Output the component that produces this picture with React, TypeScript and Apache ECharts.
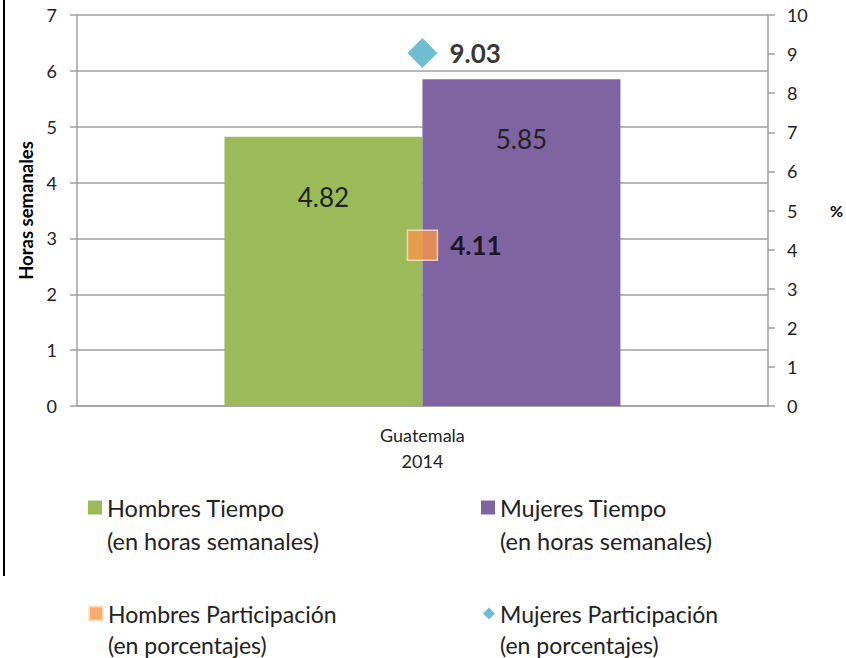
import React, { useEffect, useRef } from "react";
import * as echarts from "echarts";

const categories = ["Guatemala\n2014"];
const hombresTiempo = [4.82];
const mujeresTiempo = [5.85];
const hombresParticipacion = [4.11];
const mujeresParticipacion = [9.03];
const leftTicks = { min: 0, max: 7, interval: 1 };
const rightTicks = { min: 0, max: 10, interval: 1 };

const FONT = "Lato, 'Open Sans', sans-serif";

export default function App() {
  const ref = useRef<HTMLDivElement>(null);
  useEffect(() => {
    if (!ref.current) return;
    const chart = echarts.init(ref.current, null, { renderer: "svg" });
    const mkLegend = (name: string, left: number, top: number, icon: string, size: number, fontSize: number, lineHeight: number) => ({
      data: [{ name, icon }],
      left,
      top,
      itemWidth: size,
      itemHeight: size,
      itemGap: 0,
      padding: 0,
      selectedMode: false,
      formatter: (n: string) => "\n" + n,
      textStyle: { fontFamily: FONT, fontSize, color: "#222", lineHeight },
    });
    const n1 = "Hombres Tiempo\n(en horas semanales)";
    const n2 = "Mujeres Tiempo\n(en horas semanales)";
    const n3 = "Hombres Participación\n(en porcentajes)";
    const n4 = "Mujeres Participación\n(en porcentajes)";
    chart.setOption({
      animation: false,
      textStyle: { fontFamily: FONT },
      grid: { left: 77, right: 75, top: 15, bottom: 252 },
      legend: [
        mkLegend(n1, 88, 458, "rect", 14, 23.5, 33),
        mkLegend(n2, 481, 458, "rect", 14, 23.5, 33),
        mkLegend(n3, 88, 567, "rect", 14, 23, 31),
        mkLegend(n4, 483, 567, "diamond", 12, 23, 31),
      ],
      graphic: [
        { type: "rect", shape: { x: 3, y: 0, width: 2, height: 576 }, style: { fill: "#000" } },
      ],
      xAxis: {
        type: "category",
        data: categories,
        axisLine: { lineStyle: { color: "#a0a0a0", width: 1.5 } },
        axisTick: { show: false },
        axisLabel: { fontFamily: FONT, fontSize: 18, color: "#222", lineHeight: 26, margin: 16 },
      },
      yAxis: [
        {
          type: "value",
          ...leftTicks,
          name: "Horas semanales",
          nameLocation: "middle",
          nameGap: 42,
          nameTextStyle: { fontFamily: FONT, fontSize: 18.5, fontWeight: "bold", color: "#000" },
          axisLine: { show: true, lineStyle: { color: "#a0a0a0", width: 1.5 } },
          axisTick: { show: true, length: 7, lineStyle: { color: "#a0a0a0", width: 1.5 } },
          axisLabel: { fontFamily: FONT, fontSize: 18, color: "#222", margin: 20 },
          splitLine: { show: true, lineStyle: { color: "#a0a0a0", width: 1.5 } },
        },
        {
          type: "value",
          ...rightTicks,
          name: "%",
          nameLocation: "middle",
          nameGap: 62,
          nameRotate: 0,
          nameTextStyle: { fontFamily: FONT, fontSize: 16, fontWeight: "bold", color: "#000" },
          axisLine: { show: true, lineStyle: { color: "#a0a0a0", width: 1.5 } },
          axisTick: { show: true, length: 7, lineStyle: { color: "#a0a0a0", width: 1.5 } },
          axisLabel: { fontFamily: FONT, fontSize: 18, color: "#222", margin: 19 },
          splitLine: { show: false },
        },
      ],
      series: [
        {
          name: n1,
          type: "bar",
          data: hombresTiempo,
          barWidth: 198,
          barGap: "0%",
          itemStyle: { color: "#9BBB59" },
          label: { show: true, position: "insideTop", distance: 47, fontFamily: FONT, fontSize: 26, color: "#222" },
        },
        {
          name: n2,
          type: "bar",
          data: mujeresTiempo,
          barWidth: 198,
          barGap: "0%",
          itemStyle: { color: "#8064A2" },
          label: { show: true, position: "insideTop", distance: 47, fontFamily: FONT, fontSize: 26, color: "#222" },
        },
        {
          name: n3,
          type: "scatter",
          yAxisIndex: 1,
          data: hombresParticipacion,
          symbol: "rect",
          symbolSize: 30,
          itemStyle: { color: "#F79646", borderColor: "#fde3cc", borderWidth: 1.5 },
          label: { show: true, position: "right", distance: 12, fontFamily: FONT, fontSize: 26, fontWeight: "bold", color: "#000" },
          z: 5,
        },
        {
          name: n4,
          type: "scatter",
          yAxisIndex: 1,
          data: mujeresParticipacion,
          symbol: "diamond",
          symbolSize: 30,
          itemStyle: { color: "#4BACC6" },
          label: { show: true, position: "right", distance: 12, fontFamily: FONT, fontSize: 26, fontWeight: "bold", color: "#000" },
          z: 5,
        },
      ],
    });
    return () => chart.dispose();
  }, []);
  return <div ref={ref} style={{ width: 846, height: 658, position: "absolute", left: 0, top: 0 }} />;
}
